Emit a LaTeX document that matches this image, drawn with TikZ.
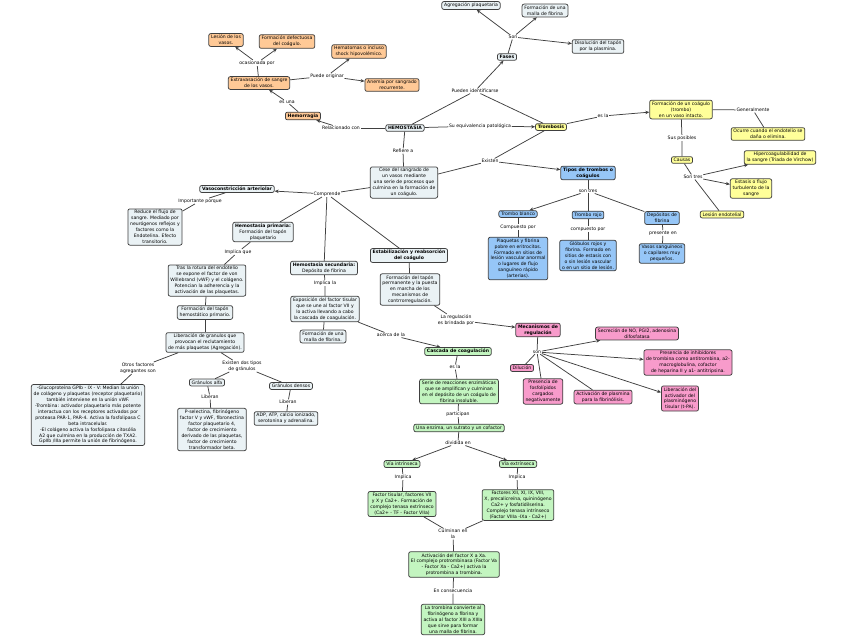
\documentclass[tikz,border=0pt]{standalone}
\usepackage{fontspec}
\setmainfont{DejaVu Sans}
\usetikzlibrary{arrows.meta}
\definecolor{orangefill}{HTML}{FFC996}
\definecolor{grayfill}{HTML}{EAF2F5}
\definecolor{yellowfill}{HTML}{FFFF99}
\definecolor{bluefill}{HTML}{96C6F7}
\definecolor{greenfill}{HTML}{C3F5C0}
\definecolor{pinkfill}{HTML}{F89BCB}
\newcommand\mapsize{\fontsize{4.6}{5.9}\selectfont}
\tikzset{
  concept/.style={draw=black!75, line width=0.75pt, rounded corners=2pt, align=center,
    inner xsep=2.3pt, inner ysep=1.6pt, font=\mapsize},
  orangebox/.style={concept, fill=orangefill},
  graybox/.style={concept, fill=grayfill},
  yellowbox/.style={concept, fill=yellowfill},
  bluebox/.style={concept, fill=bluefill},
  greenbox/.style={concept, fill=greenfill},
  pinkbox/.style={concept, fill=pinkfill},
  linkph/.style={fill=white, inner sep=0.6pt, align=center, font=\mapsize},
  conn/.style={draw=black!75, line width=0.75pt},
  arr/.style={conn, -{Stealth[length=4pt, width=3.4pt]}}
}
\begin{document}
\begin{tikzpicture}[x=1pt, y=-1pt]
    \useasboundingbox (0,0) rectangle (848,638);

    % Hemorragia
    \node[orangebox] (lesion) at (226,40) {Lesión de los\\vasos.};
    \node[orangebox] (defect) at (287,41.5) {Formación defectuosa\\del coágulo.};
    \node[linkph] (ocas) at (257,63) {ocasionada por};
    \node[orangebox] (extrav) at (259,83) {Extravasación de sangre\\de los vasos.};
    \node[linkph] (puede) at (327,76) {Puede originar};
    \node[orangebox] (hemat) at (359,51.5) {Hematomas o incluso\\shock hipovolémico.};
    \node[orangebox] (anemia) at (392,85) {Anemia por sangrado\\recurrente.};
    \node[linkph] (esuna) at (287,102) {es una};
    \node[orangebox, font=\mapsize\bfseries] (hemorr) at (303,116) {Hemorragia};
    \node[linkph] (relac) at (341,128) {Relacionado con};
    \node[graybox, font=\mapsize\bfseries] (hemost) at (405,128) {HEMOSTASIA};

    % Fases
    \node[graybox] (agreg) at (471,5.5) {Agregación plaquetaria};
    \node[graybox] (malla) at (545,10.5) {Formación de una\\malla de fibrina};
    \node[linkph] (son) at (513,37) {Son};
    \node[graybox] (disol) at (598,46.5) {Disolución del tapón\\por la plasmina.};
    \node[graybox, font=\mapsize\bfseries] (fases) at (507,57) {Fases};
    \node[linkph] (pueden) at (475,91) {Pueden identificarse};
    \node[linkph] (equiv) at (480,126) {Su equivalencia patológica};

    % Trombosis
    \node[yellowbox, font=\mapsize\bfseries] (trombosis) at (551,127) {Trombosis};
    \node[linkph] (esla) at (603,116) {es la};
    \node[yellowbox] (coag) at (681,109.5) {Formación de un coágulo\\(trombo)\\en un vaso intacto.};
    \node[linkph] (general) at (753,110) {Generalmente};
    \node[yellowbox] (ocurre) at (768,134) {Ocurre cuando el endotelio se\\daña o elimina.};
    \node[linkph] (posibles) at (682,138) {Sus posibles};
    \node[yellowbox] (causas) at (682,160) {Causas};
    \node[linkph] (sontres) at (693,177) {Son tres};
    \node[yellowbox] (hiper) at (780,157.5) {Hipercoagulabilidad de\\la sangre (Triada de Virchow)};
    \node[yellowbox] (estasis) at (751,188.5) {Estasis o flujo\\turbulento de la\\sangre};
    \node[yellowbox] (lesend) at (722,214.5) {Lesión endotelial};

    % Definicion y tipos de trombos
    \node[linkph] (refiere) at (403,151) {Refiere a};
    \node[graybox] (caso) at (404,182.5) {Cese del sangrado de\\un vasos mediante\\una serie de procesos que\\culmina en la formación de\\un coágulo.};
    \node[linkph] (existen) at (490,161) {Existen};
    \node[bluebox, font=\mapsize\bfseries] (tipos) at (588,173) {Tipos de trombos o\\coágulos};
    \node[linkph] (sontresb) at (588,191) {son tres};
    \node[bluebox] (blanco) at (518,214) {Trombo blanco};
    \node[bluebox] (rojo) at (588,215) {Trombo rojo};
    \node[bluebox] (depos) at (662,218) {Depósitos de\\fibrina};
    \node[linkph] (compb) at (518,227) {Compuesto por};
    \node[linkph] (compr) at (588,229) {compuesto por};
    \node[linkph] (presente) at (663,233) {presente en};
    \node[bluebox] (plaq) at (518,258.5) {Plaquetas y fibrina\\pobre en eritrocitos.\\Formado en sitios de\\lesión vascular anormal\\o lugares de flujo\\sanguíneo rápido\\(arterias).};
    \node[bluebox] (globulos) at (588,255.5) {Glóbulos rojos y\\fibrina. Formado en\\sitios de estasis con\\o sin lesión vascular\\o en un sitio de lesión.};
    \node[bluebox] (vasos) at (662,253.5) {Vasos sanguíneos\\o capilares muy\\pequeños.};

    % Hemostasia primaria
    \node[linkph] (comprende) at (327,194) {Comprende};
    \node[graybox, font=\mapsize\bfseries] (vasocon) at (237,189) {Vasoconstricción arteriolar};
    \node[linkph] (importante) at (200,201) {Importante porque};
    \node[graybox] (reduce) at (155,227) {Reduce el flujo de\\sangre. Mediado por\\neurógenos reflejos y\\factores como la\\Endotelina. Efecto\\transitorio.};
    \node[graybox] (hprim) at (263,232) {\textbf{Hemostasia primaria:}\\Formación del tapón\\plaquetario};
    \node[linkph] (implicaq) at (238,252) {Implica que};
    \node[graybox] (tras) at (207,280.5) {Tras la rotura del endotelio\\se expone el factor de von\\Willebrand (vWF) y el colágeno.\\Potencian la adherencia y la\\activación de las plaquetas.};
    \node[graybox] (tapon) at (205,312.5) {Formación del tapón\\hemostático primario.};
    \node[graybox] (liber) at (205,342.5) {Liberación de granulos que\\provocan el reclutamiento\\de más plaquetas (Agregación).};
    \node[linkph] (otros) at (138,368) {Otros factores\\agregantes son};
    \node[linkph] (existdos) at (242,366) {Existen dos tipos\\de gránulos};
    \node[graybox] (alfa) at (207,382.5) {Gránulos alfa};
    \node[graybox] (densos) at (291,386) {Gránulos densos};
    \node[linkph] (liberanA) at (210,397) {Liberan};
    \node[linkph] (liberanD) at (288,402) {Liberan};
    \node[graybox] (psel) at (212,429.5) {P-selectina, fibrinógeno\\factor V y vWF, fibronectina\\factor plaquetario 4,\\factor de crecimiento\\derivado de las plaquetas,\\factor de crecimiento\\transformador beta.};
    \node[graybox] (adp) at (286,418.5) {ADP, ATP, calcio ionizado,\\serotonina y adrenalina.};
    \node[graybox] (gluco) at (88,415) {-Glucoproteína GPIb - IX - V: Median la unión\\de colágeno y plaquetas (receptor plaquetario)\\también interviene en la unión vWF.\\-Trombina: activador plaquetario más potente\\interactua con los receptores activados por\\proteasa PAR-1, PAR-4. Activa la fosfolipasa C\\beta intracelular.\\-El colágeno activa la fosfolipasa citosólia\\A2 que culmina en la producción de TXA2.\\GpIIb /IIIa permite la unión de fibrinógeno.};

    % Hemostasia secundaria y regulacion
    \node[graybox] (hsec) at (324,268) {\textbf{Hemostasia secundaria:}\\Depósito de fibrina};
    \node[linkph] (implical) at (325,283) {Implica la};
    \node[graybox] (expos) at (325,309) {Exposición del factor tisular\\que se une al factor VII y\\lo activa llevando a cabo\\la cascada de coagulación.};
    \node[graybox] (mallaf) at (323,336.5) {Formación de una\\malla de fibrina.};
    \node[linkph] (acerca) at (391,335) {acerca de la};
    \node[graybox, font=\mapsize\bfseries] (estab) at (409,255.5) {Estabilización y reabsorción\\del coágulo};
    \node[graybox] (tperm) at (410,289.5) {Formación del tapón\\permanente y la puesta\\en marcha de los\\mecanismos de\\contrrorregulación.};
    \node[linkph] (regul) at (456,320) {La regulación\\es brindada por};
    \node[pinkbox, font=\mapsize\bfseries] (mecan) at (538,330) {Mecanismos de\\regulación};
    \node[linkph] (sonm) at (537,352) {son};
    \node[pinkbox] (secre) at (637,333.5) {Secreción de NO, PGI2, adenosina\\difosfatasa};
    \node[pinkbox] (inhib) at (688,362.5) {Presencia de inhibidores\\de trombina como antitrombina, a2-\\macroglobulina, cofactor\\de heparina II y a1- antitripsina.};
    \node[pinkbox] (dilu) at (522,368) {Dilución};
    \node[pinkbox] (fosfo) at (543,391.5) {Presencia de\\fosfolípidos\\cargados\\negativamente};
    \node[pinkbox] (plasm) at (603,397) {Activación de plasmina\\para la fibrinólisis.};
    \node[pinkbox] (tpa) at (680,398.5) {Liberación del\\activador del\\plasminógeno\\tisular (t-PA).};

    % Cascada de coagulacion
    \node[greenbox, font=\mapsize\bfseries] (cascada) at (458,351.5) {Cascada de coagulación};
    \node[linkph] (esla2) at (455,367) {es la};
    \node[greenbox] (serie) at (459,391.5) {Serie de reacciones enzimáticas\\que se amplifican y culminan\\en el depósito de un coágulo de\\fibrina insoluble.};
    \node[linkph] (particip) at (458,414) {participan};
    \node[greenbox] (enzima) at (459,428) {Una enzima, un sutrato y un cofactor};
    \node[linkph] (dividida) at (458,443) {dividida en};
    \node[greenbox] (intr) at (402,464) {Vía intrínseca};
    \node[greenbox] (extr) at (518,464) {Vía extrínseca};
    \node[linkph] (implicaI) at (403,477) {Implica};
    \node[linkph] (implicaE) at (517,477) {Implica};
    \node[greenbox] (ftis) at (402,504) {Factor tisular, factores VII\\y X y Ca2+. Formación de\\complejo tenasa extrínseco\\(Ca2+ - TF - Factor VIIa)};
    \node[greenbox] (fxii) at (518,505) {Factores XII, XI, IX, VIII,\\X, precalicreína, quininógeno\\Ca2+ y fosfatidilserina.\\Complejo tenasa intrínseco\\(Factor VIIIa -IXa - Ca2+)};
    \node[linkph] (culminan) at (453,534) {Culminan en\\la};
    \node[greenbox] (activ) at (454,564.5) {Activación del factor X a Xa.\\El complejo protrombinasa (Factor Va\\- Factor Xa - Ca2+) activa la\\protrombina a trombina.};
    \node[linkph] (consec) at (453,591) {En consecuencia};
    \node[greenbox] (trombina) at (453,619.5) {La trombina convierte al\\fibrinógeno a fibrina y\\activa al factor XIII a XIIIa\\que sirve para formar\\una malla de fibrina.};

    % Conectores
    \draw[conn] (extrav) -- (ocas);
    \draw[arr] (ocas) -- (lesion);
    \draw[arr] (ocas) -- (defect);
    \draw[conn] (extrav) -- (puede);
    \draw[arr] (puede) -- (hemat);
    \draw[arr] (puede) -- (anemia);
    \draw[conn] (hemorr) -- (esuna);
    \draw[arr] (esuna) -- (extrav);
    \draw[conn] (hemost) -- (relac);
    \draw[arr] (relac) -- (hemorr);

    \draw[conn] (hemost) -- (pueden);
    \draw[conn] (trombosis) -- (pueden);
    \draw[arr] (pueden) -- (fases);
    \draw[conn] (fases) -- (son);
    \draw[arr] (son) -- (agreg);
    \draw[arr] (son) -- (malla);
    \draw[arr] (son) -- (disol);
    \draw[conn] (hemost) -- (equiv);
    \draw[arr] (equiv) -- (trombosis);

    \draw[conn] (trombosis) -- (esla);
    \draw[arr] (esla) -- (coag);
    \draw[conn] (coag) -- (general) -- (ocurre);
    \draw[conn] (coag) -- (posibles) -- (causas);
    \draw[conn] (causas) -- (sontres);
    \draw[arr] (sontres) -- (hiper);
    \draw[arr] (sontres) -- (estasis);
    \draw[conn] (sontres) -- (lesend);

    \draw[conn] (hemost) -- (refiere) -- (caso);
    \draw[conn] (caso) -- (existen);
    \draw[conn] (trombosis) -- (existen);
    \draw[arr] (existen) -- (tipos);
    \draw[conn] (tipos) -- (sontresb);
    \draw[arr] (sontresb) -- (blanco);
    \draw[conn] (sontresb) -- (rojo);
    \draw[conn] (sontresb) -- (depos);
    \draw[conn] (blanco) -- (compb) -- (plaq);
    \draw[conn] (rojo) -- (compr) -- (globulos);
    \draw[conn] (depos) -- (presente) -- (vasos);

    \draw[conn] (caso) -- (comprende);
    \draw[arr] (comprende) -- (vasocon);
    \draw[conn] (comprende) -- (hprim);
    \draw[conn] (comprende) -- (hsec);
    \draw[conn] (comprende) -- (estab);
    \draw[conn] (vasocon) -- (importante) -- (reduce);
    \draw[conn] (hprim) -- (implicaq) -- (tras);
    \draw[conn] (tras) -- (tapon);
    \draw[conn] (tapon) -- (liber);
    \draw[conn] (liber) -- (otros) -- (gluco);
    \draw[conn] (liber) -- (existdos);
    \draw[conn] (existdos) -- (alfa);
    \draw[conn] (existdos) -- (densos);
    \draw[conn] (alfa) -- (liberanA) -- (psel);
    \draw[conn] (densos) -- (liberanD) -- (adp);

    \draw[conn] (hsec) -- (implical) -- (expos);
    \draw[conn] (expos) -- (mallaf);
    \draw[conn] (expos) -- (acerca);
    \draw[arr] (acerca) -- (cascada);
    \draw[conn] (estab) -- (tperm);
    \draw[conn] (tperm) -- (regul);
    \draw[arr] (regul) -- (mecan);
    \draw[conn] (mecan) -- (sonm);
    \draw[arr] (sonm) -- (secre);
    \draw[arr] (sonm) -- (inhib);
    \draw[conn] (sonm) -- (dilu);
    \draw[conn] (sonm) -- (fosfo);
    \draw[conn] (sonm) -- (plasm);
    \draw[arr] (sonm) -- (tpa);

    \draw[conn] (cascada) -- (esla2) -- (serie);
    \draw[conn] (serie) -- (particip) -- (enzima);
    \draw[conn] (enzima) -- (dividida);
    \draw[arr] (dividida) -- (intr);
    \draw[arr] (dividida) -- (extr);
    \draw[conn] (intr) -- (implicaI) -- (ftis);
    \draw[conn] (extr) -- (implicaE) -- (fxii);
    \draw[conn] (ftis) -- (culminan);
    \draw[conn] (fxii) -- (culminan);
    \draw[conn] (culminan) -- (activ);
    \draw[conn] (activ) -- (consec) -- (trombina);
\end{tikzpicture}
\end{document}
